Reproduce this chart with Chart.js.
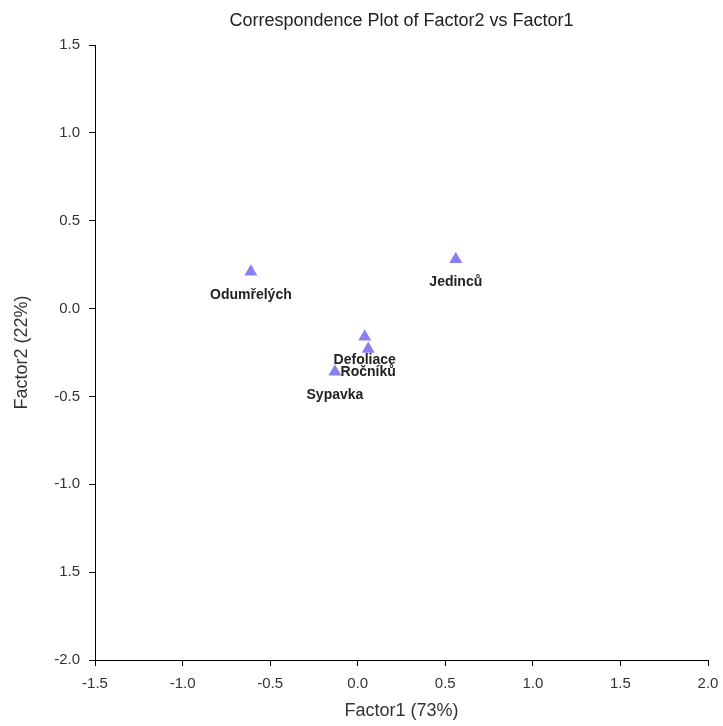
<!DOCTYPE html>
<html>
<head>
<meta charset="utf-8">
<script src="https://cdn.jsdelivr.net/npm/chart.js@4"></script>
<style>
  body { margin: 0; background: #fff; }
  canvas { display: block; }
</style>
</head>
<body>
<canvas id="corr-chart" width="723" height="726"></canvas>
<script>
// row categories and their coordinates on the first two factors
const categories = ['Odumřelých', 'Jedinců', 'Defoliace', 'Ročníků', 'Sypavka'];
const factor1 = [-0.61, 0.56, 0.04, 0.06, -0.13];
const factor2 = [0.21, 0.28, -0.16, -0.23, -0.36];

// tick labels as printed in the original (the -1.5 on the y axis lost its minus)
const xTickLabels = ['-1.5', '-1.0', '-0.5', '0.0', '0.5', '1.0', '1.5', '2.0'];
const yTickLabels = ['-2.0', '1.5', '-1.0', '-0.5', '0.0', '0.5', '1.0', '1.5'];

const pointColor = 'rgb(136, 128, 240)';
const fontFamily = '"Liberation Sans", Arial, sans-serif';

// draws the category name under each point
const pointLabels = {
    id: 'pointLabels',
    afterDatasetsDraw(chart) {
        const ctx = chart.ctx;
        const meta = chart.getDatasetMeta(0);
        ctx.save();
        ctx.font = 'bold 14px ' + fontFamily;
        ctx.fillStyle = '#222';
        ctx.textAlign = 'center';
        ctx.textBaseline = 'middle';
        meta.data.forEach((pt, i) => {
            ctx.fillText(categories[i], pt.x, pt.y + 23);
        });
        ctx.restore();
    }
};

const points = categories.map((c, i) => ({ x: factor1[i], y: factor2[i] }));

const ctx = document.getElementById('corr-chart').getContext('2d');
window.corrChart = new Chart(ctx, {
    type: 'scatter',
    data: {
        datasets: [{
            data: points,
            pointStyle: 'triangle',
            pointRadius: 7.5,
            pointHoverRadius: 7.5,
            backgroundColor: pointColor,
            borderColor: pointColor,
            borderWidth: 0
        }]
    },
    options: {
        responsive: false,
        animation: false,
        layout: { padding: { left: 0, right: 0, top: 0, bottom: 0 } },
        plugins: {
            legend: { display: false },
            tooltip: { enabled: false },
            title: {
                display: true,
                text: 'Correspondence Plot of Factor2 vs Factor1',
                fullSize: false,
                color: '#222',
                font: { family: fontFamily, size: 18, weight: 'normal' },
                padding: { top: 10, bottom: 13.4 }
            }
        },
        scales: {
            x: {
                type: 'linear',
                min: -1.5,
                max: 2.0,
                afterFit: (scale) => {
                    scale.height = 66;
                    scale.paddingRight = 15;
                },
                ticks: {
                    stepSize: 0.5,
                    color: '#333',
                    padding: 9,
                    font: { family: fontFamily, size: 15 },
                    callback: (v, i) => xTickLabels[i]
                },
                grid: { drawOnChartArea: false, drawTicks: true, tickLength: 6, color: '#000' },
                border: { display: true, color: '#000', width: 1 },
                title: {
                    display: true,
                    text: 'Factor1 (73%)',
                    color: '#333',
                    font: { family: fontFamily, size: 18 },
                    padding: { top: 0, bottom: 4 }
                }
            },
            y: {
                type: 'linear',
                min: -2.0,
                max: 1.5,
                afterFit: (scale) => { scale.width = 95; },
                ticks: {
                    stepSize: 0.5,
                    color: '#333',
                    padding: 9,
                    font: { family: fontFamily, size: 15 },
                    callback: (v, i) => yTickLabels[i]
                },
                grid: { drawOnChartArea: false, drawTicks: true, tickLength: 6, color: '#000' },
                border: { display: true, color: '#000', width: 1 },
                title: {
                    display: true,
                    text: 'Factor2 (22%)',
                    color: '#333',
                    font: { family: fontFamily, size: 18 },
                    padding: { top: 11, bottom: 0 }
                }
            }
        }
    },
    plugins: [pointLabels]
});
</script>
</body>
</html>
